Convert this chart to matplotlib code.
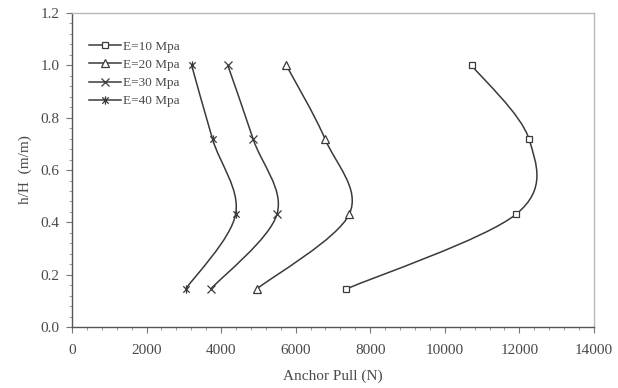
"""
Anchor pull versus relative depth for several soil moduli.
"""

import numpy as np
import matplotlib.pyplot as plt
from matplotlib.path import Path
from matplotlib.patches import PathPatch
from matplotlib.lines import Line2D
from matplotlib.ticker import MultipleLocator

plt.rcParams['font.family'] = ['Liberation Serif', 'DejaVu Serif']

depth = [0.145, 0.432, 0.718, 1.0]
pull_e10 = [7350, 11920, 12260, 10720]
pull_e20 = [4950, 7440, 6790, 5750]
pull_e30 = [3720, 5500, 4860, 4180]
pull_e40 = [3050, 4390, 3770, 3210]
labels = ['E=10 Mpa', 'E=20 Mpa', 'E=30 Mpa', 'E=40 Mpa']

# star marker: an x crossed by a vertical bar
star = Path([(-1, -1), (1, 1), (-1, 1), (1, -1), (0, -1.3), (0, 1.3)],
            [Path.MOVETO, Path.LINETO, Path.MOVETO, Path.LINETO,
             Path.MOVETO, Path.LINETO])
markers = ['s', '^', 'x', star]
sizes = [5, 5.5, 6, 6]

line_col = '#3a3a3a'
text_col = '#4a4a4a'


def smooth_path(xs, ys):
    """
    Catmull-Rom curve through the points, as cubic bezier segments.
    """
    pts = np.column_stack([xs, ys]).astype(float)
    ext = np.vstack([pts[0], pts, pts[-1]])
    verts = [pts[0]]
    codes = [Path.MOVETO]
    for i in range(len(pts) - 1):
        p0, p1, p2, p3 = ext[i], ext[i + 1], ext[i + 2], ext[i + 3]
        verts += [p1 + (p2 - p0) / 6.0, p2 - (p3 - p1) / 6.0, p2]
        codes += [Path.CURVE4] * 3
    return Path(verts, codes)


fig = plt.figure(figsize=(6.18, 3.88), dpi=100)
ax = fig.add_axes([0.1165, 0.157, 0.8445, 0.8095])

handles = []
for i, xs in enumerate([pull_e10, pull_e20, pull_e30, pull_e40]):
    ax.add_patch(PathPatch(smooth_path(xs, depth), fill=False,
                           edgecolor=line_col, linewidth=1.1))
    ax.plot(xs, depth, linestyle='none', marker=markers[i],
            markersize=sizes[i], markerfacecolor='white',
            markeredgecolor=line_col, markeredgewidth=0.9, zorder=3)
    handles.append(Line2D([], [], color=line_col, linewidth=1.1,
                          marker=markers[i], markersize=sizes[i],
                          markerfacecolor='white',
                          markeredgecolor=line_col, markeredgewidth=0.9,
                          label=labels[i]))

ax.set_xlim(0, 14000)
ax.set_ylim(0, 1.2)
ax.xaxis.set_major_locator(MultipleLocator(2000))
ax.xaxis.set_minor_locator(MultipleLocator(400))
ax.yaxis.set_major_locator(MultipleLocator(0.2))
ax.yaxis.set_minor_locator(MultipleLocator(0.04))
ax.yaxis.set_major_formatter(plt.FormatStrFormatter('%.1f'))

for side in ['left', 'bottom']:
    ax.spines[side].set_color('#555555')
    ax.spines[side].set_linewidth(1.0)
for side in ['top', 'right']:
    ax.spines[side].set_color('#b8b8b8')
    ax.spines[side].set_linewidth(1.0)

ax.tick_params(which='major', direction='out', length=4, width=0.8,
               color='#777777', labelsize=11, labelcolor=text_col)
ax.tick_params(which='minor', direction='out', length=2.5, width=0.7,
               color='#999999')
ax.tick_params(axis='x', pad=8)
ax.tick_params(axis='y', pad=5)

ax.set_xlabel('Anchor Pull (N)', fontsize=11, color=text_col, labelpad=9)
ax.set_ylabel('h/H  (m/m)', fontsize=11, color=text_col, labelpad=6)

ax.legend(handles=handles, loc='upper left', bbox_to_anchor=(0.01, 0.95),
          frameon=False, fontsize=9.5, labelcolor=text_col,
          handlelength=2.4, handletextpad=0.2, labelspacing=0.45)

fig.savefig('out.png', dpi=100)
